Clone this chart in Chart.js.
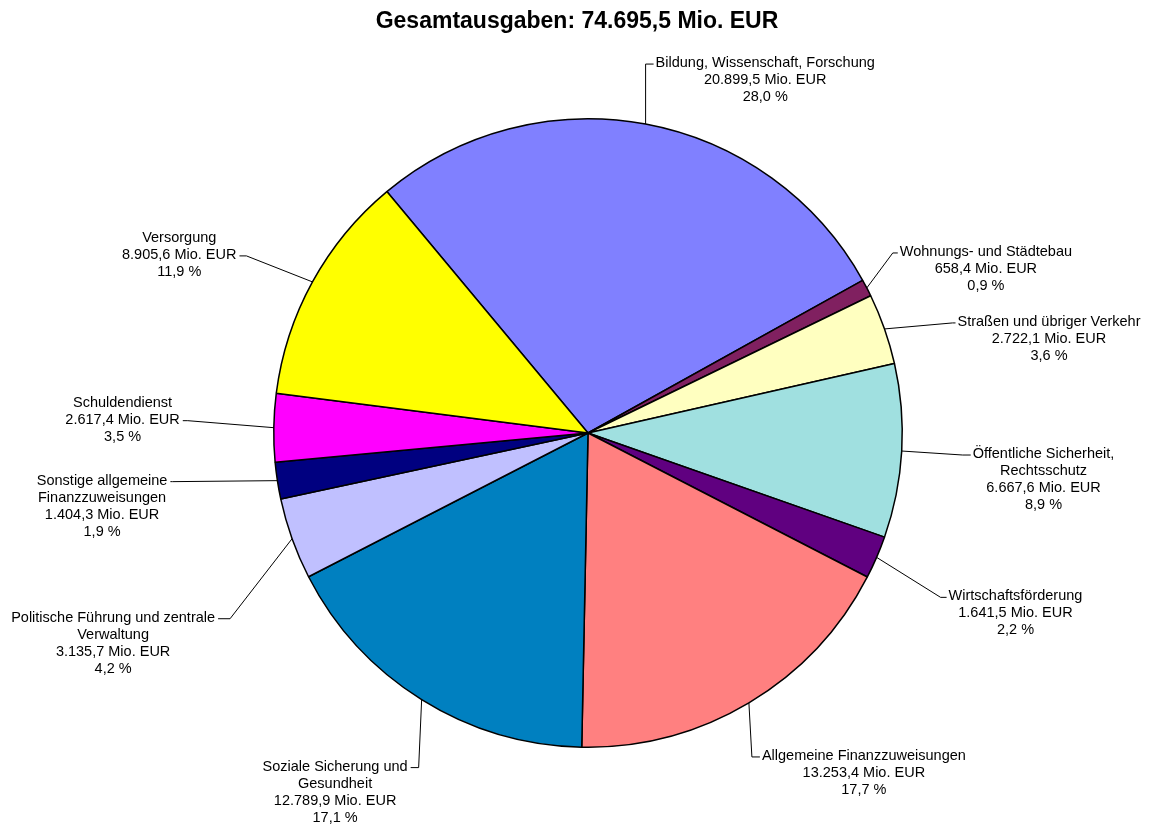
<!DOCTYPE html>
<html>
<head>
<meta charset="utf-8">
<script src="https://cdn.jsdelivr.net/npm/chart.js@4/dist/chart.umd.min.js"></script>
<style>
html,body{margin:0;padding:0;background:#fff;}
#wrap{width:1157px;height:826px;position:relative;}
</style>
</head>
<body>
<div id="wrap"><canvas id="c" width="1157" height="826"></canvas></div>
<script>
// ---- data ----
const titleText = "Gesamtausgaben: 74.695,5 Mio. EUR";
const categories = [
  "Bildung, Wissenschaft, Forschung",
  "Wohnungs- und Städtebau",
  "Straßen und übriger Verkehr",
  "Öffentliche Sicherheit,\nRechtsschutz",
  "Wirtschaftsförderung",
  "Allgemeine Finanzzuweisungen",
  "Soziale Sicherung und\nGesundheit",
  "Politische Führung und zentrale\nVerwaltung",
  "Sonstige allgemeine\nFinanzzuweisungen",
  "Schuldendienst",
  "Versorgung"
];
const valuesMioEUR = [20899.5, 658.4, 2722.1, 6667.6, 1641.5, 13253.4, 12789.9, 3135.7, 1404.3, 2617.4, 8905.6];
const unitLabel = "Mio. EUR";

// ---- styles / layout ----
const sliceColors = ["#8080FF","#802060","#FFFFC0","#A0E0E0","#600080","#FF8080","#0080C0","#C0C0FF","#000080","#FF00FF","#FFFF00"];
// leader elbow offset from slice mid-point on rim, side of text, tick length, gap, attached text line
const labelLayout = [
  {dx:0,   dy:-60, side:"right", tick:8, gap:2, line:0},
  {dx:26,  dy:-35, side:"right", tick:5, gap:2, line:0},
  {dx:68,  dy:-6,  side:"right", tick:3, gap:2, line:0},
  {dx:61,  dy:4,   side:"right", tick:8, gap:2, line:0},
  {dx:64,  dy:40,  side:"right", tick:6, gap:2, line:0},
  {dx:3,   dy:54,  side:"right", tick:8, gap:2, line:0},
  {dx:-3,  dy:68,  side:"left",  tick:8, gap:3, line:0},
  {dx:-62, dy:80,  side:"left",  tick:12, gap:3, line:0},
  {dx:-105,dy:1,   side:"left",  tick:2, gap:3, line:0},
  {dx:-86, dy:-7,  side:"left",  tick:5, gap:3, line:1},
  {dx:-66, dy:-26, side:"left",  tick:7, gap:3, line:1}
];
const FONT = '14.5px "Liberation Sans", Arial, sans-serif';
const TITLE_FONT = 'bold 23px "Liberation Sans", Arial, sans-serif';
const LINE_H = 17;

const total = valuesMioEUR.reduce((a,b)=>a+b,0);
const fmt = (v)=>v.toLocaleString('de-DE',{minimumFractionDigits:1,maximumFractionDigits:1});

const labelPlugin = {
  id:'outLabels',
  afterDatasetsDraw(chart){
    const ctx = chart.ctx;
    const meta = chart.getDatasetMeta(0);
    ctx.save();
    ctx.font = FONT;
    ctx.fillStyle = '#000';
    ctx.strokeStyle = '#000';
    ctx.lineWidth = 1;
    ctx.textBaseline = 'middle';
    ctx.textAlign = 'center';
    meta.data.forEach((arc,i)=>{
      const p = arc.getProps(['x','y','startAngle','endAngle','outerRadius'],true);
      const mid = (p.startAngle+p.endAngle)/2;
      const ax = p.x + Math.cos(mid)*p.outerRadius;
      const ay = p.y + Math.sin(mid)*p.outerRadius;
      const L = labelLayout[i];
      const ex = ax + L.dx, ey = ay + L.dy;
      const dir = L.side === 'right' ? 1 : -1;
      ctx.beginPath();
      ctx.moveTo(ax, ay);
      ctx.lineTo(ex, ey);
      ctx.lineTo(ex + dir*L.tick, ey);
      ctx.stroke();
      const v = valuesMioEUR[i];
      const lines = categories[i].split('\n').concat([fmt(v)+' '+unitLabel, fmt(v/total*100)+' %']);
      const wk = ctx.measureText(lines[L.line]).width;
      const edge = ex + dir*(L.tick+L.gap);
      const cx = dir>0 ? edge + wk/2 : edge - wk/2;
      lines.forEach((t,j)=>{
        ctx.fillText(t, cx, ey - 1 + (j - L.line)*LINE_H);
      });
    });
    // title
    ctx.font = TITLE_FONT;
    ctx.textBaseline = 'alphabetic';
    ctx.fillText(titleText, 577, 28);
    ctx.restore();
  }
};

new Chart(document.getElementById('c'), {
  type:'pie',
  data:{
    labels: categories,
    datasets:[{
      data: valuesMioEUR,
      backgroundColor: sliceColors,
      borderColor:'#000',
      borderWidth:1.5,
      hoverOffset:0
    }]
  },
  options:{
    responsive:false,
    animation:false,
    rotation:-39.8,
    layout:{padding:{top:118,bottom:78,left:273,right:254}},
    plugins:{legend:{display:false},tooltip:{enabled:false},title:{display:false}},
    events:[]
  },
  plugins:[labelPlugin]
});
</script>
</body>
</html>
